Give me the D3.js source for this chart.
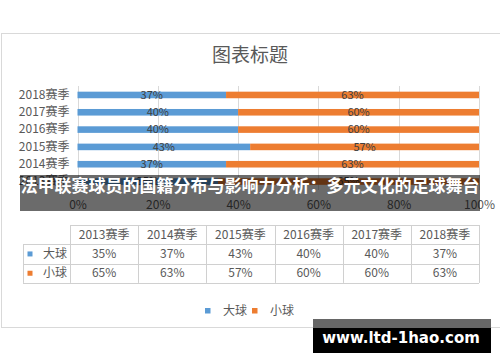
<!DOCTYPE html>
<html>
<head>
<meta charset="utf-8">
<script src="https://cdn.jsdelivr.net/npm/d3@7"></script>
<style>
  body { margin: 0; background: #fff; }
  svg { display: block; }
</style>
</head>
<body>
<script>
// dados do grafico
var seasons = ["2013赛季", "2014赛季", "2015赛季", "2016赛季", "2017赛季", "2018赛季"];
var bigBall = [35, 37, 43, 40, 40, 37];
var smallBall = [65, 63, 57, 60, 60, 63];
var seriesNames = ["大球", "小球"];
var seriesColors = ["#5B9BD5", "#ED7D31"];
var xTicks = [0, 20, 40, 60, 80, 100];

var width = 500;
var height = 362;
var font = "'Noto Sans CJK SC', 'Noto Sans', sans-serif";
var textColor = "#595959";

var svg = d3.select("body").append("svg")
	.attr("width", width)
	.attr("height", height);

// moldura do grafico
svg.append("rect")
	.attr("x", 1.5)
	.attr("y", 33.5)
	.attr("width", 520)
	.attr("height", 294)
	.attr("fill", "#fff")
	.attr("stroke", "#d9d9d9");

// titulo
svg.append("text")
	.attr("x", 250)
	.attr("y", 62)
	.attr("text-anchor", "middle")
	.attr("font-family", font)
	.attr("font-size", "19px")
	.attr("fill", textColor)
	.text("图表标题");

// escalas
var xScale = d3.scaleLinear().domain([0, 100]).range([77.5, 479]);
var yScale = d3.scaleBand().domain(seasons).range([190.2, 86.3])
	.paddingInner(0.62).paddingOuter(0.31);

// linhas de grade
svg.append("g")
	.selectAll("line")
	.data(xTicks)
	.enter().append("line")
	.attr("x1", function(d) { return Math.round(xScale(d)) + 0.5; })
	.attr("x2", function(d) { return Math.round(xScale(d)) + 0.5; })
	.attr("y1", 86)
	.attr("y2", 190)
	.attr("stroke", "#d9d9d9");

// eixo x
var xAxis = d3.axisBottom(xScale)
	.tickValues(xTicks)
	.tickSize(0)
	.tickFormat(function(d) { return d + "%"; });
var xAxisGroup = svg.append("g")
	.attr("transform", "translate(0,197)")
	.call(xAxis);
xAxisGroup.select(".domain").remove();
xAxisGroup.selectAll("text")
	.attr("font-family", font)
	.attr("font-size", "12px")
	.attr("fill", textColor);

// eixo y
var yAxis = d3.axisLeft(yScale).tickSize(0).tickPadding(8);
var yAxisGroup = svg.append("g")
	.attr("transform", "translate(77.5,0)")
	.call(yAxis);
yAxisGroup.select(".domain").remove();
yAxisGroup.selectAll("text")
	.attr("font-family", font)
	.attr("font-size", "12px")
	.attr("fill", textColor);

// barras empilhadas
var rows = seasons.map(function(s, i) {
	return {season: s, big: bigBall[i], small: smallBall[i]};
});
var stack = d3.stack().keys(["big", "small"])(rows);

var layers = svg.append("g")
	.selectAll("g")
	.data(stack)
	.enter().append("g")
	.attr("fill", function(d, i) { return seriesColors[i]; });

layers.selectAll("rect")
	.data(function(d) { return d; })
	.enter().append("rect")
	.attr("x", function(d) { return xScale(d[0]); })
	.attr("y", function(d) { return yScale(d.data.season); })
	.attr("width", function(d) { return xScale(d[1]) - xScale(d[0]); })
	.attr("height", yScale.bandwidth());

layers.selectAll("text")
	.data(function(d) { return d; })
	.enter().append("text")
	.attr("x", function(d) { return (xScale(d[0]) + xScale(d[1])) / 2; })
	.attr("y", function(d) { return yScale(d.data.season) + yScale.bandwidth() / 2; })
	.attr("dy", "0.35em")
	.attr("text-anchor", "middle")
	.attr("font-family", font)
	.attr("font-size", "11px")
	.attr("fill", "#404040")
	.text(function(d) { return (d[1] - d[0]) + "%"; });

// tabela de dados
var colScale = d3.scaleBand().domain(seasons).range([70, 479]);
var tableTop = 225;
var rowH = 19.3;
var table = svg.append("g")
	.attr("font-family", font)
	.attr("font-size", "12px")
	.attr("fill", textColor);

// cabecalho
table.selectAll(".head")
	.data(seasons)
	.enter().append("text")
	.attr("x", function(d) { return colScale(d) + colScale.bandwidth() / 2; })
	.attr("y", tableTop + rowH / 2)
	.attr("dy", "0.35em")
	.attr("text-anchor", "middle")
	.text(function(d) { return d; });

var tableRows = [bigBall, smallBall];
tableRows.forEach(function(vals, r) {
	var cy = tableTop + rowH * (r + 1) + rowH / 2;
	table.append("rect")
		.attr("x", 27.5)
		.attr("y", cy - 2.5)
		.attr("width", 5)
		.attr("height", 5)
		.attr("fill", seriesColors[r]);
	table.append("text")
		.attr("x", 43)
		.attr("y", cy)
		.attr("dy", "0.35em")
		.text(seriesNames[r]);
	table.selectAll(".v" + r)
		.data(vals)
		.enter().append("text")
		.attr("x", function(d, i) { return colScale(seasons[i]) + colScale.bandwidth() / 2; })
		.attr("y", cy)
		.attr("dy", "0.35em")
		.attr("text-anchor", "middle")
		.text(function(d) { return d + "%"; });
});

// bordas da tabela
var grid = svg.append("g").attr("stroke", "#d0d0d0").attr("fill", "none");
[0, 1, 2, 3].forEach(function(r) {
	grid.append("line")
		.attr("x1", r == 0 ? 70 : 23)
		.attr("x2", 479)
		.attr("y1", Math.round(tableTop + rowH * r) + 0.5)
		.attr("y2", Math.round(tableTop + rowH * r) + 0.5);
});
colScale.domain().concat(["end"]).forEach(function(s) {
	var x = s == "end" ? 479 : colScale(s);
	grid.append("line")
		.attr("x1", Math.round(x) + 0.5)
		.attr("x2", Math.round(x) + 0.5)
		.attr("y1", tableTop)
		.attr("y2", tableTop + rowH * 3);
});
grid.append("line")
	.attr("x1", 23.5).attr("x2", 23.5)
	.attr("y1", tableTop + rowH)
	.attr("y2", tableTop + rowH * 3);

// legenda
var legend = svg.append("g")
	.attr("font-family", font)
	.attr("font-size", "12px")
	.attr("fill", textColor);
var legendX = [205, 252];
seriesNames.forEach(function(n, i) {
	legend.append("rect")
		.attr("x", legendX[i])
		.attr("y", 308)
		.attr("width", 5.5)
		.attr("height", 5.5)
		.attr("fill", seriesColors[i]);
	legend.append("text")
		.attr("x", legendX[i] + 18)
		.attr("y", 311)
		.attr("dy", "0.35em")
		.text(n);
});

// faixa com o titulo
svg.append("rect")
	.attr("x", 20)
	.attr("y", 175)
	.attr("width", 460)
	.attr("height", 36)
	.attr("fill", "#000")
	.attr("fill-opacity", 0.58);
svg.append("text")
	.attr("x", 250)
	.attr("y", 186)
	.attr("dy", "0.35em")
	.attr("text-anchor", "middle")
	.attr("font-family", font)
	.attr("font-size", "17px")
	.attr("font-weight", "bold")
	.attr("fill", "#fff")
	.text("法甲联赛球员的国籍分布与影响力分析：多元文化的足球舞台");

// marca d'agua
svg.append("rect")
	.attr("x", 313)
	.attr("y", 319)
	.attr("width", 178)
	.attr("height", 9)
	.attr("fill", "#666");
svg.append("rect")
	.attr("x", 313)
	.attr("y", 328)
	.attr("width", 178)
	.attr("height", 25)
	.attr("fill", "#000");
svg.append("text")
	.attr("x", 401)
	.attr("y", 338)
	.attr("dy", "0.35em")
	.attr("text-anchor", "middle")
	.attr("font-family", "'DejaVu Sans', sans-serif")
	.attr("font-size", "15px")
	.attr("font-weight", "bold")
	.attr("fill", "#fff")
	.text("www.ltd-1hao.com");
</script>
</body>
</html>
